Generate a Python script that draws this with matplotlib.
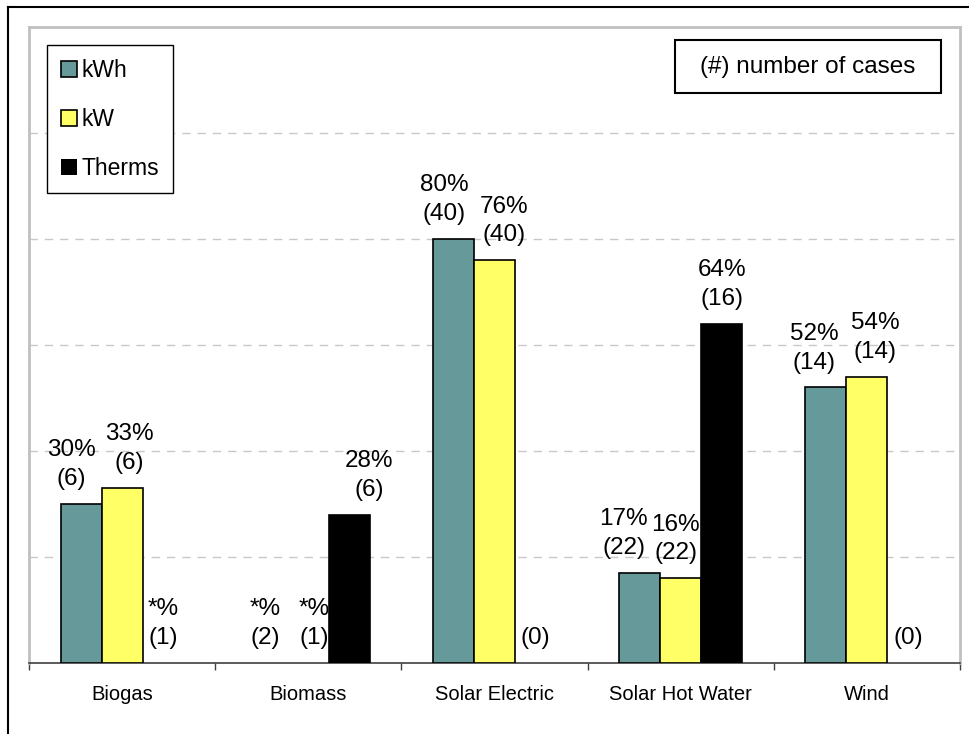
"""
Percent of cases per technology, by kWh / kW / Therms
"""

import numpy as np
import matplotlib.pyplot as plt
from matplotlib.lines import Line2D
from matplotlib.patches import Rectangle

plt.rcParams['font.family'] = ['Liberation Sans', 'DejaVu Sans']

# dati
categories = ['Biogas', 'Biomass', 'Solar Electric', 'Solar Hot Water', 'Wind']
kwh = [30, 0, 80, 17, 52]
kw = [33, 0, 76, 16, 54]
therms = [0, 28, 0, 64, 0]
kwh_pct = ['30%', '*%', '80%', '17%', '52%']
kw_pct = ['33%', '*%', '76%', '16%', '54%']
therms_pct = ['*%', '28%', '', '64%', '']
kwh_cases = [6, 2, 40, 22, 14]
kw_cases = [6, 1, 40, 22, 14]
therms_cases = [1, 6, 0, 16, 0]

# spostamento orizzontale delle etichette (pixel), come fa Excel per evitare sovrapposizioni
kwh_nudge = [-10, -2, -9, -16, -12]
kw_nudge = [7, 6, 10, -5, 8]
therms_nudge = [0, 20, 0, 0, 0]

W, H = 969, 734
fig = plt.figure(figsize=(W / 100, H / 100), dpi=100)
ax = fig.add_axes([29 / W, 1 - 663 / H, 931 / W, 636 / H])

x = np.arange(len(categories)) + 0.5
w = 0.22

series = [
    ('kWh', kwh, '#669999', kwh_pct, kwh_cases, kwh_nudge),
    ('kW', kw, '#ffff66', kw_pct, kw_cases, kw_nudge),
    ('Therms', therms, '#000000', therms_pct, therms_cases, therms_nudge),
]

for i, (name, vals, color, pct, cases, nudge) in enumerate(series):
    pos = x + (i - 1) * w
    ax.bar(pos, vals, w, color=color, edgecolor='black',
           linewidth=[1.2 if v else 0 for v in vals], label=name, zorder=3)
    for p, v, t, n, dx in zip(pos, vals, pct, cases, nudge):
        txt = f'{t}\n({n})' if t else f'({n})'
        ax.annotate(txt, (p, v), xytext=(dx * 0.72, 10), textcoords='offset points',
                    ha='center', va='bottom', fontsize=17.5, linespacing=1.4)

ax.set_xlim(0, len(categories))
ax.set_ylim(0, 120)

# griglia tratteggiata
ax.set_yticks([20, 40, 60, 80, 100])
ax.yaxis.grid(True, linestyle=(0, (6, 5)), color='#c8c8c8', linewidth=1)
ax.tick_params(axis='y', length=0, labelleft=False)

# tacche sui confini delle categorie, etichette al centro
ax.set_xticks(range(len(categories) + 1))
ax.set_xticklabels([])
ax.tick_params(axis='x', which='major', length=5, width=1, direction='out', color='#404040')
ax.set_xticks(x, minor=True)
ax.set_xticklabels(categories, minor=True, fontsize=14.5)
ax.tick_params(axis='x', which='minor', length=0, pad=16)

for s in ['left', 'top', 'right']:
    ax.spines[s].set_color('#c0c0c0')
    ax.spines[s].set_linewidth(2)
ax.spines['bottom'].set_color('#404040')
ax.spines['bottom'].set_linewidth(1.2)

leg = ax.legend(loc='upper left', bbox_to_anchor=(47 / W, 1 - 45 / H),
                bbox_transform=fig.transFigure, fancybox=False, edgecolor='black',
                framealpha=1, fontsize=16.5, handlelength=0.7, handleheight=0.7,
                handletextpad=0.2, labelspacing=1.13, borderpad=0.6, borderaxespad=0)
leg.get_frame().set_linewidth(1)

# riquadro "(#) number of cases"
fig.add_artist(Rectangle((675 / W, 1 - 93 / H), 266 / W, 53 / H, transform=fig.transFigure,
                         fill=False, edgecolor='black', linewidth=1.5))
fig.text(808 / W, 1 - 67 / H, '(#) number of cases', ha='center', va='center', fontsize=17.5)

# cornice esterna (solo sinistra e alto visibili)
fig.add_artist(Line2D([8 / W, 8 / W], [0, 1 - 7 / H], color='black', linewidth=1.5))
fig.add_artist(Line2D([8 / W, 1], [1 - 7 / H, 1 - 7 / H], color='black', linewidth=1.5))

fig.savefig('out.png', dpi=100)
